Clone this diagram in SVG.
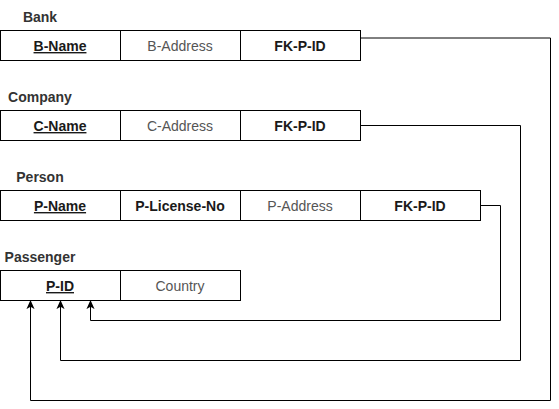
<svg xmlns="http://www.w3.org/2000/svg" width="559" height="409" viewBox="0 0 559 409">
<style>
.cell{fill:#fff;stroke:#000;stroke-width:1}
text{font-family:"Liberation Sans",Arial,Helvetica,sans-serif;font-size:14px;text-anchor:middle}
.title{font-weight:bold;fill:#333}
.pk{font-weight:bold;text-decoration:underline;fill:#1a1a1a}
.fk{font-weight:bold;fill:#1a1a1a}
.plain{fill:#555}
.conn{fill:none;stroke:#000;stroke-width:1}
</style>
<defs>
<marker id="arr" viewBox="0 0 10 10" refX="9" refY="5" markerWidth="9" markerHeight="9" markerUnits="userSpaceOnUse" orient="auto">
<path d="M0,0.5 L10,5 L0,9.5 L2.5,5 Z" fill="#000"/>
</marker>
</defs>
<g id="bank">
<text class="title" x="40" y="22">Bank</text>
<rect class="cell" x="0.5" y="30.5" width="120" height="30"/>
<rect class="cell" x="120.5" y="30.5" width="120" height="30"/>
<rect class="cell" x="240.5" y="30.5" width="120" height="30"/>
<text class="pk" x="60" y="51">B-Name</text>
<text class="plain" x="180" y="51">B-Address</text>
<text class="fk" x="300" y="51">FK-P-ID</text>
</g>
<g id="company">
<text class="title" x="40" y="102">Company</text>
<rect class="cell" x="0.5" y="110.5" width="120" height="30"/>
<rect class="cell" x="120.5" y="110.5" width="120" height="30"/>
<rect class="cell" x="240.5" y="110.5" width="120" height="30"/>
<text class="pk" x="60" y="131">C-Name</text>
<text class="plain" x="180" y="131">C-Address</text>
<text class="fk" x="300" y="131">FK-P-ID</text>
</g>
<g id="person">
<text class="title" x="40" y="182">Person</text>
<rect class="cell" x="0.5" y="190.5" width="120" height="30"/>
<rect class="cell" x="120.5" y="190.5" width="120" height="30"/>
<rect class="cell" x="240.5" y="190.5" width="120" height="30"/>
<rect class="cell" x="360.5" y="190.5" width="120" height="30"/>
<text class="pk" x="60" y="211">P-Name</text>
<text class="fk" x="180" y="211">P-License-No</text>
<text class="plain" x="300" y="211">P-Address</text>
<text class="fk" x="420" y="211">FK-P-ID</text>
</g>
<g id="passenger">
<text class="title" x="40" y="262">Passenger</text>
<rect class="cell" x="0.5" y="270.5" width="120" height="30"/>
<rect class="cell" x="120.5" y="270.5" width="120" height="30"/>
<text class="pk" x="60" y="291">P-ID</text>
<text class="plain" x="180" y="291">Country</text>
</g>
<g id="connectors">
<path class="conn" d="M361,38 H550.5 V400.5 H30.5 V301" marker-end="url(#arr)"/>
<path class="conn" d="M361,125.5 H520.5 V360.5 H60.5 V301" marker-end="url(#arr)"/>
<path class="conn" d="M481,205.5 H500.5 V320.5 H90.5 V301" marker-end="url(#arr)"/>
</g>
</svg>
